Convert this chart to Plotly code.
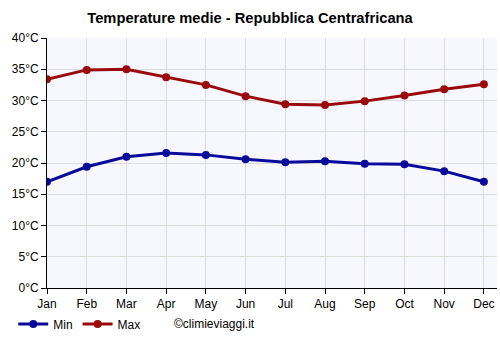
import plotly.graph_objects as go

months = ["Jan", "Feb", "Mar", "Apr", "May", "Jun", "Jul", "Aug", "Sep", "Oct", "Nov", "Dec"]
t_min = [17.0, 19.4, 21.0, 21.6, 21.3, 20.6, 20.1, 20.3, 19.9, 19.8, 18.7, 17.0]
t_max = [33.4, 34.9, 35.0, 33.7, 32.5, 30.7, 29.4, 29.3, 29.9, 30.8, 31.8, 32.6]
y_ticks = [0, 5, 10, 15, 20, 25, 30, 35, 40]
y_labels = [f"{v}°C" for v in y_ticks]

xs = list(range(len(months)))
font = "Liberation Sans, Arial, sans-serif"

fig = go.Figure()
fig.add_trace(go.Scatter(x=xs, y=t_min, name="Min", mode="lines+markers",
                         line=dict(color="#0a0a9a", width=3),
                         marker=dict(size=8, color="#0a0a9a")))
fig.add_trace(go.Scatter(x=xs, y=t_max, name="Max", mode="lines+markers",
                         line=dict(color="#9a0a0a", width=3),
                         marker=dict(size=8, color="#9a0a0a")))

fig.update_layout(
    width=500, height=350,
    margin=dict(l=47, r=3, t=38, b=62),
    paper_bgcolor="white", plot_bgcolor="#f7f8ff",
    font=dict(family=font, size=12, color="black"),
    title=dict(text="<b>Temperature medie - Repubblica Centrafricana</b>",
               x=0.5, xanchor="center", y=0.948, yanchor="middle",
               font=dict(size=14.7, family=font)),
    showlegend=True,
    legend=dict(orientation="h", x=-0.075, y=-0.144, xanchor="left", yanchor="middle",
                font=dict(size=12, family=font), itemwidth=30, tracegroupgap=0,
                bgcolor="rgba(0,0,0,0)"),
    xaxis=dict(range=[0, 11.33], tickvals=xs, ticktext=months,
               showgrid=True, gridcolor="#dcdcdc", showline=True, linecolor="black",
               linewidth=1, ticks="outside", ticklen=5, tickcolor="black",
               zeroline=False, fixedrange=True),
    yaxis=dict(range=[0, 40], tickvals=y_ticks, ticktext=y_labels,
               showgrid=True, gridcolor="#dcdcdc", showline=True, linecolor="black",
               linewidth=1, ticks="outside", ticklen=5, tickcolor="black",
               zeroline=False, fixedrange=True),
    annotations=[dict(text="©climieviaggi.it", x=0.278, y=-0.144, xref="paper", yref="paper",
                      xanchor="left", yanchor="middle", showarrow=False,
                      font=dict(size=12, family=font))],
)

fig.write_html("out.html")
